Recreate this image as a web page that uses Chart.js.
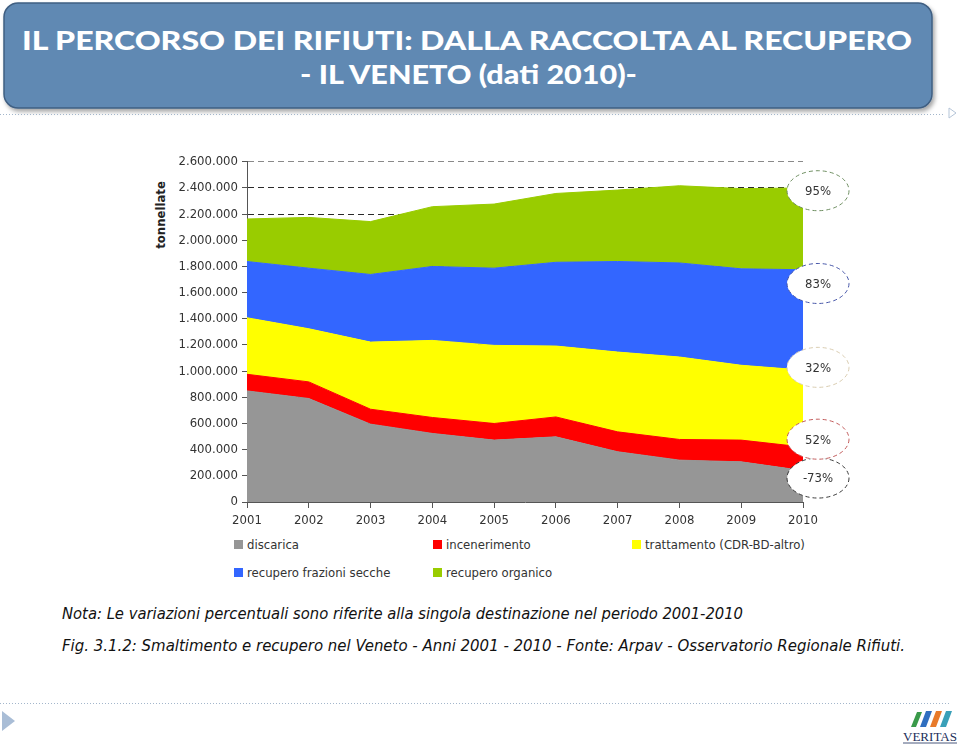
<!DOCTYPE html>
<html>
<head>
<meta charset="utf-8">
<script src="https://cdn.jsdelivr.net/npm/chart.js@4.4.0/dist/chart.umd.min.js"></script>
<style>
  html, body { margin: 0; padding: 0; background: #fff; }
  body { width: 960px; height: 745px; position: relative; overflow: hidden;
         font-family: "DejaVu Sans Condensed", "DejaVu Sans", sans-serif; }
  #deco { position: absolute; left: 0; top: 0; }
  #box { position: absolute; left: 150px; top: 150px; width: 720px; height: 382px; }
  #ytitle { position: absolute; left: 160px; top: 215px; transform: translate(-50%, -50%) rotate(-90deg);
            font-weight: bold; font-size: 13px; color: #222; white-space: nowrap; }
  .leg { position: absolute; font-size: 13px; color: #333; white-space: nowrap; line-height: 14px; }
  .leg i { position: absolute; left: 0; top: 2px; width: 9px; height: 9px; }
  .leg span { position: absolute; left: 13px; top: 0; }
</style>
</head>
<body>
<svg id="deco" width="960" height="745">
  <defs>
    <filter id="sh" x="-5%" y="-10%" width="110%" height="130%">
      <feDropShadow dx="2" dy="3" stdDeviation="2" flood-color="#000" flood-opacity="0.35"/>
    </filter>
  </defs>
  <rect x="4" y="3" width="928" height="105" rx="14" ry="14" fill="#6189b3" stroke="#3f5f82" stroke-width="1.5" filter="url(#sh)"/>
  <text x="22" y="50" textLength="890" lengthAdjust="spacingAndGlyphs" fill="#fff"
        font-family="Lato,'Liberation Sans',sans-serif" font-weight="900" font-size="27">IL PERCORSO DEI RIFIUTI: DALLA RACCOLTA  AL RECUPERO</text>
  <text x="300" y="84" textLength="337" lengthAdjust="spacingAndGlyphs" fill="#fff"
        font-family="Lato,'Liberation Sans',sans-serif" font-weight="900" font-size="27">- IL VENETO (dati 2010)-</text>
  <line x1="0" y1="114.5" x2="945" y2="114.5" stroke="#a3b6cb" stroke-width="1" stroke-dasharray="1,2"/>
  <polygon points="949,108 956,113 949,118" fill="none" stroke="#b5c5d8" stroke-width="1"/>
  <text x="62" y="619" textLength="681" lengthAdjust="spacingAndGlyphs" fill="#111" font-style="italic"
        font-family="'DejaVu Sans Condensed','DejaVu Sans',sans-serif" font-size="16.5">Nota: Le variazioni percentuali sono riferite alla singola destinazione nel periodo 2001-2010</text>
  <text x="62" y="651" textLength="843" lengthAdjust="spacingAndGlyphs" fill="#111" font-style="italic"
        font-family="'DejaVu Sans Condensed','DejaVu Sans',sans-serif" font-size="16.5">Fig. 3.1.2: Smaltimento e recupero nel Veneto - Anni 2001 - 2010 - Fonte: Arpav - Osservatorio Regionale Rifiuti.</text>
  <line x1="0" y1="703.5" x2="950" y2="703.5" stroke="#a3b6cb" stroke-width="1" stroke-dasharray="1,2"/>
  <polygon points="2,711 15,721 2,731" fill="#a9bdd6"/>
  <!-- logo VERITAS -->
  <polygon points="917,712 922,712 916,727 911,727" fill="#3a9a4a"/>
  <polygon points="926,711 932,711 926,727 920,727" fill="#2f6fc0"/>
  <polygon points="936,711 942,711 936,727 930,727" fill="#e87a2a"/>
  <polygon points="946,711 952,711 946,727 940,727" fill="#3aa0b8"/>
  <text x="903" y="741" textLength="54" lengthAdjust="spacingAndGlyphs" fill="#1d2f5a"
        font-family="'Liberation Serif',serif" font-size="13">VERITAS</text>
  <line x1="903" y1="743" x2="957" y2="743" stroke="#1d2f5a" stroke-width="0.8"/>
</svg>

<div id="ytitle">tonnellate</div>
<div id="box"><canvas id="graficaRifiuti"></canvas></div>
<div id="legenda"></div>

<script>
const anni = ['2001', '2002', '2003', '2004', '2005', '2006', '2007', '2008', '2009', '2010'];

// tonnellate per destinazione (valori non cumulati)
const discarica        = [849000, 791000, 595000, 524000, 473000, 498000, 384000, 320000, 307000, 240000];
const incenerimento    = [127000, 127000, 114000, 122000, 127000, 152000, 152000, 158000, 166000, 180000];
const trattamento      = [432000, 406000, 513000, 589000, 597000, 542000, 610000, 630000, 572000, 588000];
const recuperoSecco    = [430000, 463000, 517000, 565000, 590000, 640000, 692000, 719000, 737000, 767000];
const recuperoOrganico = [325000, 388000, 404000, 457000, 490000, 526000, 546000, 590000, 613000, 625000];

const nomiSerie = ['discarica', 'incenerimento', 'trattamento (CDR-BD-altro)', 'recupero frazioni secche', 'recupero organico'];
const coloriSerie = ['#969696', '#ff0000', '#ffff00', '#3366ff', '#99cc00'];

// variazioni 2001-2010, dal basso verso l'alto
const variazioni = ['-73%', '52%', '32%', '83%', '95%'];

const tickY = [0, 200000, 400000, 600000, 800000, 1000000, 1200000, 1400000, 1600000, 1800000, 2000000, 2200000, 2400000, 2600000];

const puntini = n => String(n).replace(/\B(?=(\d{3})+(?!\d))/g, '.');

const serie = [discarica, incenerimento, trattamento, recuperoSecco, recuperoOrganico];
const datasets = serie.map((d, i) => ({
  label: nomiSerie[i],
  data: d,
  backgroundColor: coloriSerie[i],
  borderColor: coloriSerie[i],
  borderWidth: 1,
  pointRadius: 0,
  tension: 0,
  fill: i === 0 ? 'origin' : '-1'
}));

// ellissi tratteggiate con le percentuali, a destra del 2010
const ellissi = {
  id: 'ellissi',
  afterDraw(chart) {
    const ctx = chart.ctx;
    const y = chart.scales.y;
    const cx = chart.chartArea.right + 15;
    const centri = [183000, 480000, 1029000, 1670000, 2379000];
    const bordi = ['#3a3a3a', '#c25b5b', '#d9ccb0', '#4656a8', '#6f8f62'];
    ctx.save();
    variazioni.forEach((t, i) => {
      const cy = y.getPixelForValue(centri[i]);
      ctx.beginPath();
      ctx.ellipse(cx, cy, 31, 20, 0, 0, Math.PI * 2);
      ctx.fillStyle = '#fff';
      ctx.fill();
      ctx.setLineDash([4, 3]);
      ctx.lineWidth = 1;
      ctx.strokeStyle = bordi[i];
      ctx.stroke();
      ctx.setLineDash([]);
      ctx.fillStyle = '#333';
      ctx.font = '13px "DejaVu Sans Condensed", "DejaVu Sans", sans-serif';
      ctx.textAlign = 'center';
      ctx.textBaseline = 'middle';
      ctx.fillText(t, cx, cy + 1);
    });
    ctx.restore();
  }
};

const graficaRifiuti = new Chart(document.getElementById('graficaRifiuti'), {
  type: 'line',
  data: { labels: anni, datasets: datasets },
  options: {
    responsive: true,
    maintainAspectRatio: false,
    animation: false,
    layout: { padding: { top: 11, right: 67, left: 0, bottom: 0 } },
    plugins: { legend: { display: false }, tooltip: { enabled: false } },
    scales: {
      x: {
        offset: false,
        grid: { drawOnChartArea: false, drawTicks: true, tickLength: 6, color: '#555' },
        border: { display: true, color: '#555', width: 1 },
        ticks: { color: '#333', padding: 5, maxRotation: 0,
                 font: { family: '"DejaVu Sans Condensed", "DejaVu Sans", sans-serif', size: 13 } },
        afterFit: s => { s.height = 30; }
      },
      y: {
        stacked: true,
        min: 0,
        max: 2600000,
        afterBuildTicks: s => { s.ticks = tickY.map(v => ({ value: v })); },
        grid: {
          color: c => (c.tick && c.tick.value === 2600000) ? '#8a8a8a' : '#2a2a2a',
          tickColor: '#555',
          tickLength: 5,
          lineWidth: 1
        },
        border: { display: true, color: '#555', width: 1, dash: [6, 4] },
        ticks: { color: '#333', padding: 4, callback: v => puntini(v),
                 font: { family: '"DejaVu Sans Condensed", "DejaVu Sans", sans-serif', size: 13 } },
        afterFit: s => { s.width = 97; }
      }
    }
  },
  plugins: [ellissi]
});

// legenda su tre colonne
const legenda = document.getElementById('legenda');
const colX = [234, 433, 632];
const rigaY = [538, 566];
nomiSerie.forEach((nome, i) => {
  const el = document.createElement('div');
  el.className = 'leg';
  el.style.left = colX[i % 3] + 'px';
  el.style.top = rigaY[Math.floor(i / 3)] + 'px';
  el.innerHTML = '<i style="background:' + coloriSerie[i] + '"></i><span>' + nome + '</span>';
  legenda.appendChild(el);
});
</script>
</body>
</html>
